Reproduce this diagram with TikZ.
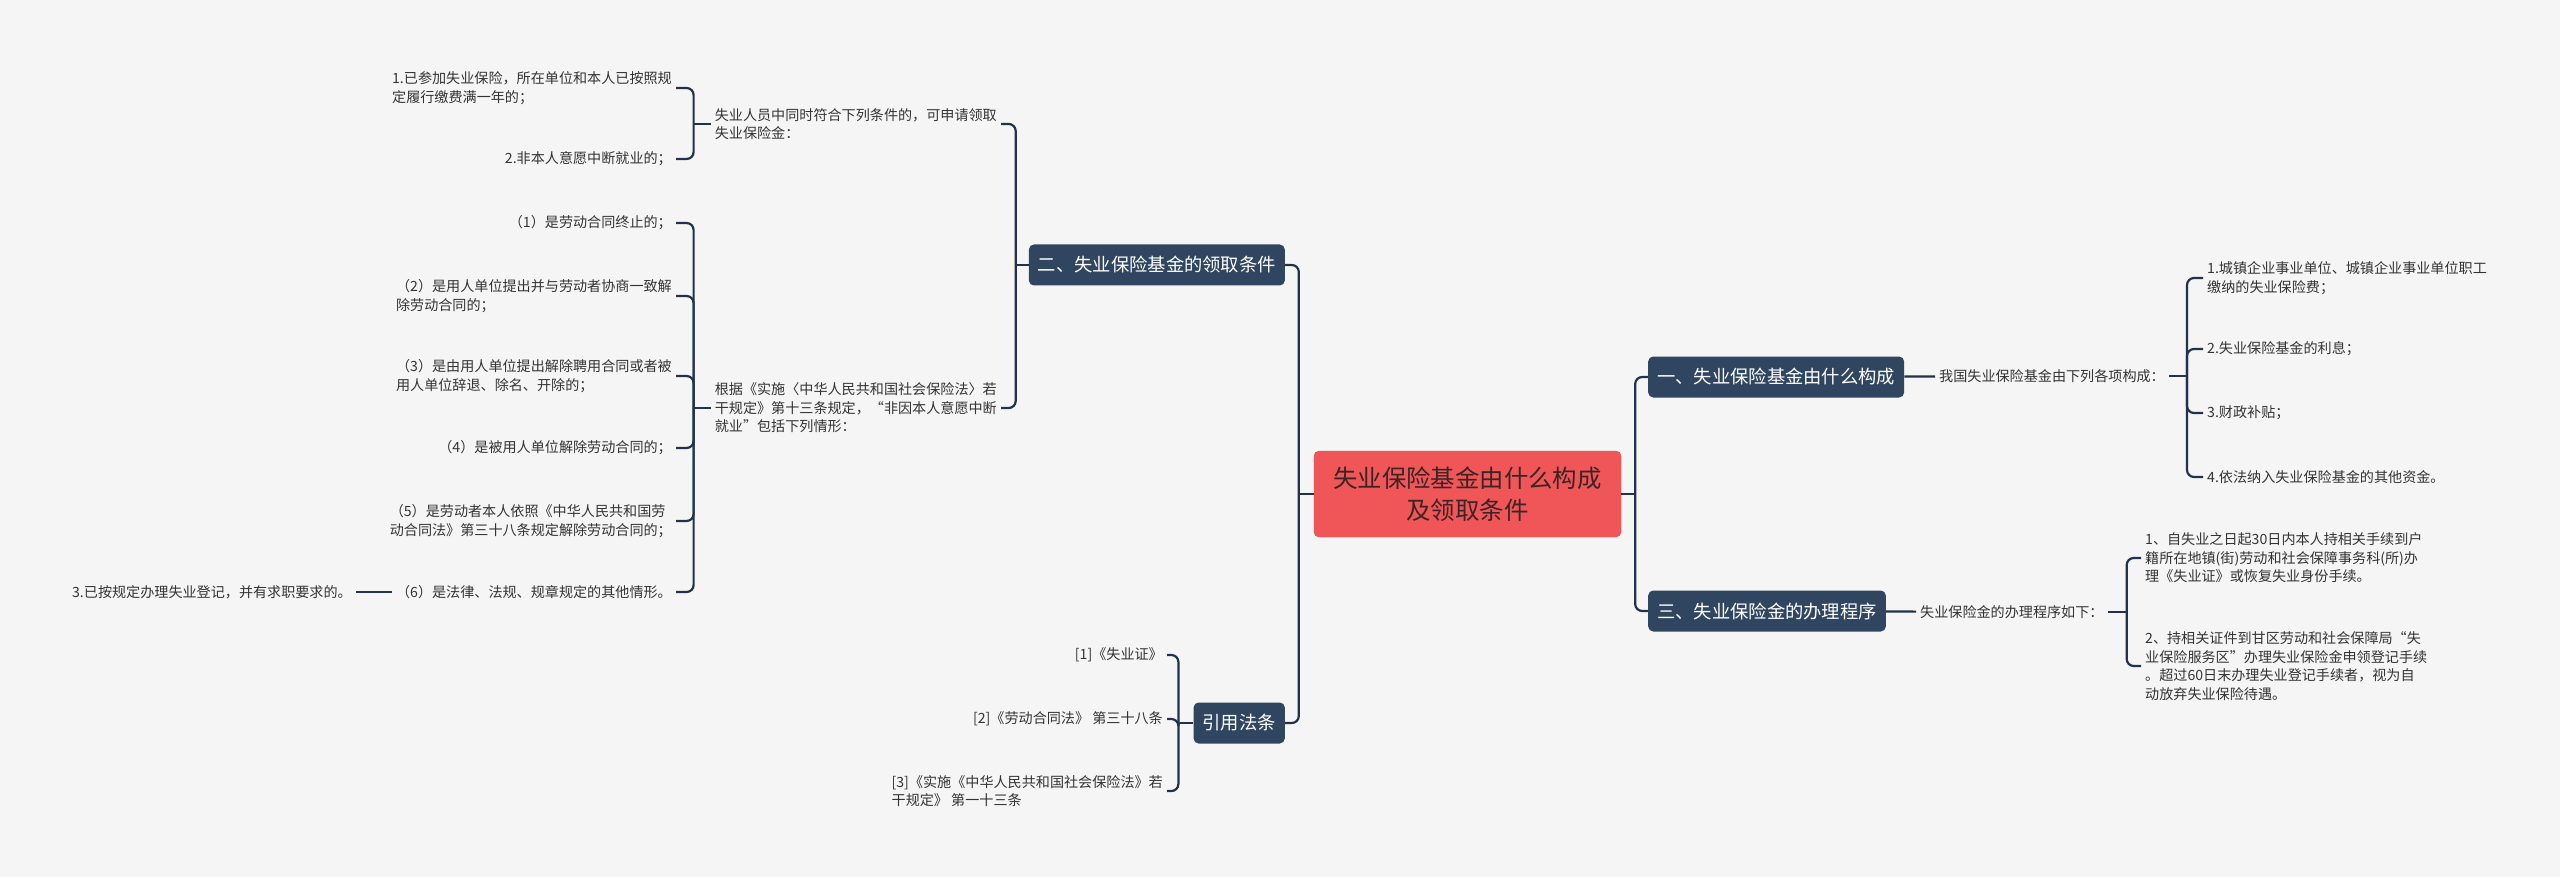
\documentclass[tikz,border=0pt]{standalone}
\usepackage{fontspec}
\setmainfont{Noto Sans CJK SC}
\usepackage{tikz}
\definecolor{paper}{HTML}{F5F5F5}
\definecolor{rootred}{HTML}{F05658}
\definecolor{rootink}{HTML}{3A2424}
\definecolor{branchblue}{HTML}{2F4560}
\definecolor{linkblue}{HTML}{22324A}
\definecolor{leafink}{HTML}{333333}

\begin{document}
\begin{tikzpicture}[
    x=1pt, y=-1pt,
    root/.style={
        fill=rootred,
        draw=rootred!92!black,
        rounded corners=5pt,
        align=center,
        text=rootink,
        minimum width=307pt,
        minimum height=86pt,
        font=\fontsize{24.4pt}{32pt}\selectfont
    },
    branch/.style={
        fill=branchblue,
        rounded corners=5pt,
        text=white,
        inner xsep=9pt,
        minimum height=41pt,
        font=\fontsize{18.3pt}{22pt}\selectfont
    },
    leaf/.style={
        align=left,
        text=leafink,
        inner sep=4pt,
        font=\fontsize{14.1pt}{18.6pt}\selectfont
    },
    link/.style={draw=linkblue, line width=2.2pt, rounded corners=7pt}
]
\useasboundingbox (0,0) rectangle (2560,877);
\fill[paper] (0,0) rectangle (2560,877);

% Centre and main branches
\node[root] (root) at (1467.5,494) {失业保险基金由什么构成\\及领取条件};

\node[branch, anchor=west] (gouCheng) at (1648,377) {一、失业保险基金由什么构成};
\node[branch, anchor=west] (chengXu) at (1648,611) {三、失业保险金的办理程序};
\node[branch, anchor=east] (tiaoJian) at (1285,265) {二、失业保险基金的领取条件};
\node[branch, anchor=east] (faTiao) at (1285,723) {引用法条};

% Right side: fund sources
\node[leaf, anchor=west] (srcHead) at (1935,376) {我国失业保险基金由下列各项构成：};
\node[leaf, anchor=west] (src1) at (2203,278) {1.城镇企业事业单位、城镇企业事业单位职工\\缴纳的失业保险费；};
\node[leaf, anchor=west] (src2) at (2203,349) {2.失业保险基金的利息；};
\node[leaf, anchor=west] (src3) at (2203,413) {3.财政补贴；};
\node[leaf, anchor=west] (src4) at (2203,477) {4.依法纳入失业保险基金的其他资金。};

% Right side: procedure
\node[leaf, anchor=west] (stepHead) at (1916,612) {失业保险金的办理程序如下：};
\node[leaf, anchor=west] (step1) at (2141,558)
{1、自失业之日起30日内本人持相关手续到户\\籍所在地镇(街)劳动和社会保障事务科(所)办\\理《失业证》或恢复失业身份手续。};
\node[leaf, anchor=west] (step2) at (2141,666)
{2、持相关证件到甘区劳动和社会保障局“失\\业保险服务区”办理失业保险金申领登记手续\\。超过60日末办理失业登记手续者，视为自\\动放弃失业保险待遇。};

% Left side: conditions
\node[leaf, anchor=east] (condHead) at (1001,124) {失业人员中同时符合下列条件的，可申请领取\\失业保险金：};
\node[leaf, anchor=east] (cond1) at (676,88) {1.已参加失业保险，所在单位和本人已按照规\\定履行缴费满一年的；};
\node[leaf, anchor=east] (cond2) at (676,159) {2.非本人意愿中断就业的；};

\node[leaf, anchor=east] (caseHead) at (1001,408)
{根据《实施〈中华人民共和国社会保险法〉若\\干规定》第十三条规定，“非因本人意愿中断\\就业”包括下列情形：};
\node[leaf, anchor=east] (case1) at (676,223) {（1）是劳动合同终止的；};
\node[leaf, anchor=east] (case2) at (676,296) {（2）是用人单位提出并与劳动者协商一致解\\除劳动合同的；};
\node[leaf, anchor=east] (case3) at (676,376) {（3）是由用人单位提出解除聘用合同或者被\\用人单位辞退、除名、开除的；};
\node[leaf, anchor=east] (case4) at (676,448) {（4）是被用人单位解除劳动合同的；};
\node[leaf, anchor=east] (case5) at (676,521) {（5）是劳动者本人依照《中华人民共和国劳\\动合同法》第三十八条规定解除劳动合同的；};
\node[leaf, anchor=east] (case6) at (676,592) {（6）是法律、法规、规章规定的其他情形。};
\node[leaf, anchor=east] (cond3) at (356,592) {3.已按规定办理失业登记，并有求职要求的。};

% Left side: cited laws
\node[leaf, anchor=east] (law1) at (1167,655) {[1]《失业证》};
\node[leaf, anchor=east] (law2) at (1167,719) {[2]《劳动合同法》 第三十八条};
\node[leaf, anchor=east] (law3) at (1167,791) {[3]《实施《中华人民共和国社会保险法》若\\干规定》 第一十三条};

% Connectors
\draw[link] (root.east) -- ++(14,0) coordinate (rootR);
\draw[link] (root.west) -- ++(-15,0) coordinate (rootL);
\foreach \b in {gouCheng,chengXu} \draw[link] (rootR) |- (\b.west);
\foreach \b in {tiaoJian,faTiao} \draw[link] (rootL) |- (\b.east);

\draw[link] (gouCheng) -- (srcHead);
\draw[link] (srcHead.east) -- ++(18,0) coordinate (srcJ);
\foreach \c in {src1,src2,src3,src4} \draw[link] (srcJ) |- (\c.west);

\draw[link] (chengXu) -- (stepHead);
\draw[link] (stepHead.east) -- ++(19,0) coordinate (stepJ);
\foreach \c in {step1,step2} \draw[link] (stepJ) |- (\c.west);

\draw[link] (tiaoJian.west) -- ++(-13,0) coordinate (tiaoJ);
\foreach \c in {condHead,caseHead} \draw[link] (tiaoJ) |- (\c.east);

\draw[link] (condHead.west) -- ++(-17,0) coordinate (condJ);
\foreach \c in {cond1,cond2} \draw[link] (condJ) |- (\c.east);

\draw[link] (caseHead.west) -- ++(-17,0) coordinate (caseJ);
\foreach \c in {case1,case2,case3,case4,case5,case6} \draw[link] (caseJ) |- (\c.east);
\draw[link] (case6) -- (cond3);

\draw[link] (faTiao.west) -- ++(-15,0) coordinate (lawJ);
\foreach \c in {law1,law2,law3} \draw[link] (lawJ) |- (\c.east);

\end{tikzpicture}
\end{document}
